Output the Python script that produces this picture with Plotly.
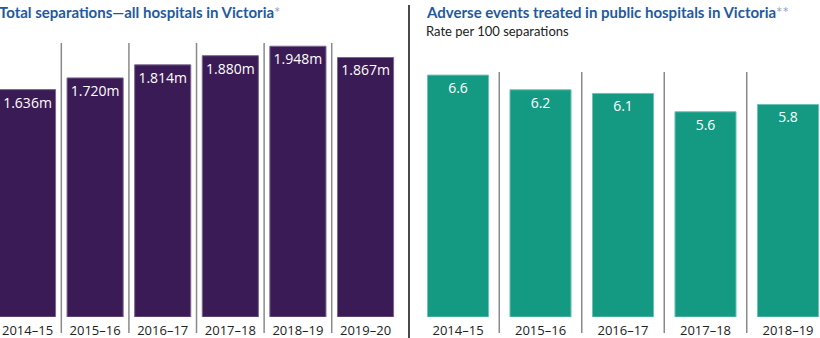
import plotly.graph_objects as go

# Left panel: total separations (millions)
years_sep = ["2014–15", "2015–16", "2016–17", "2017–18", "2018–19", "2019–20"]
separations_m = [1.636, 1.720, 1.814, 1.880, 1.948, 1.867]

# Right panel: adverse events, rate per 100 separations
years_adv = ["2014–15", "2015–16", "2016–17", "2017–18", "2018–19"]
adverse_rate = [6.6, 6.2, 6.1, 5.6, 5.8]

W, H = 820, 338
PURPLE = "#3b1b55"
TEAL = "#149a82"
TITLE_BLUE = "#1f5a9e"
STAR = "#8ea2c6"
TITLE_FONT = "Lato"
BODY_FONT = "Open Sans"

fig = go.Figure()

fig.add_trace(go.Bar(
    x=years_sep, y=separations_m, width=0.83,
    marker=dict(color=PURPLE, line=dict(color="#7a6890", width=1)),
    texttemplate="%{y:.3f}m", textposition="inside", insidetextanchor="end",
    textangle=0, constraintext="none",
    textfont=dict(color="white", size=14, family=BODY_FONT),
    xaxis="x", yaxis="y", hoverinfo="skip", showlegend=False,
))

fig.add_trace(go.Bar(
    x=years_adv, y=adverse_rate, width=0.74,
    marker=dict(color=TEAL, line=dict(color="#6cc3b2", width=1)),
    texttemplate="%{y:.1f}", textposition="inside", insidetextanchor="end",
    textangle=0, constraintext="none",
    textfont=dict(color="white", size=14, family=BODY_FONT),
    xaxis="x2", yaxis="y2", hoverinfo="skip", showlegend=False,
))

base_frac = 21 / H
axis_common = dict(showgrid=False, zeroline=False, showline=False, ticks="",
                   automargin=False, ticklabelstandoff=4,
                   tickfont=dict(size=13, color="#222222", family=BODY_FONT))

fig.update_layout(
    width=W, height=H,
    margin=dict(l=0, r=0, t=0, b=0),
    paper_bgcolor="white", plot_bgcolor="white",
    font=dict(family=BODY_FONT),
    xaxis=dict(domain=[0, 409 / W], range=[-0.407, 5.643], type="category",
               anchor="y", **axis_common),
    yaxis=dict(domain=[base_frac, 1], range=[0, 317 / 139], visible=False,
               anchor="x", automargin=False),
    xaxis2=dict(domain=[410 / W, 1], range=[-0.582, 4.388], type="category",
                anchor="y2", **axis_common),
    yaxis2=dict(domain=[base_frac, 1], range=[0, 317 / 36.65], visible=False,
                anchor="x2", automargin=False),
)

shapes = []
# thin separators between year columns
for i in range(len(years_sep) - 1):
    shapes.append(dict(type="line", xref="x", yref="paper",
                       x0=i + 0.5, x1=i + 0.5,
                       y0=(H - 333) / H, y1=(H - 43) / H,
                       line=dict(color="#8a8a8a", width=1.5)))
for i in range(len(years_adv) - 1):
    shapes.append(dict(type="line", xref="x2", yref="paper",
                       x0=i + 0.5, x1=i + 0.5,
                       y0=(H - 333) / H, y1=(H - 72) / H,
                       line=dict(color="#8a8a8a", width=1.5)))
# divider between the two panels
shapes.append(dict(type="line", xref="paper", yref="paper",
                   x0=409 / W, x1=409 / W, y0=0, y1=(H - 5) / H,
                   line=dict(color="#4a4a4a", width=2)))
fig.update_layout(shapes=shapes)

annotations = [
    dict(text="<b>Total separations—all hospitals in Victoria</b>"
              f"<span style='color:{STAR}'>*</span>",
         x=-3 / W, y=(H - 12) / H, xref="paper", yref="paper",
         xanchor="left", yanchor="middle", showarrow=False,
         font=dict(size=15, color=TITLE_BLUE, family=TITLE_FONT)),
    dict(text="<b>Adverse events treated in public hospitals in Victoria</b>"
              f"<span style='color:{STAR}'>**</span>",
         x=424 / W, y=(H - 12) / H, xref="paper", yref="paper",
         xanchor="left", yanchor="middle", showarrow=False,
         font=dict(size=15, color=TITLE_BLUE, family=TITLE_FONT)),
    dict(text="Rate per 100 separations",
         x=424 / W, y=(H - 31) / H, xref="paper", yref="paper",
         xanchor="left", yanchor="middle", showarrow=False,
         font=dict(size=13, color="#222222", family=TITLE_FONT)),
]
fig.update_layout(annotations=annotations)

fig.write_html("out.html")
